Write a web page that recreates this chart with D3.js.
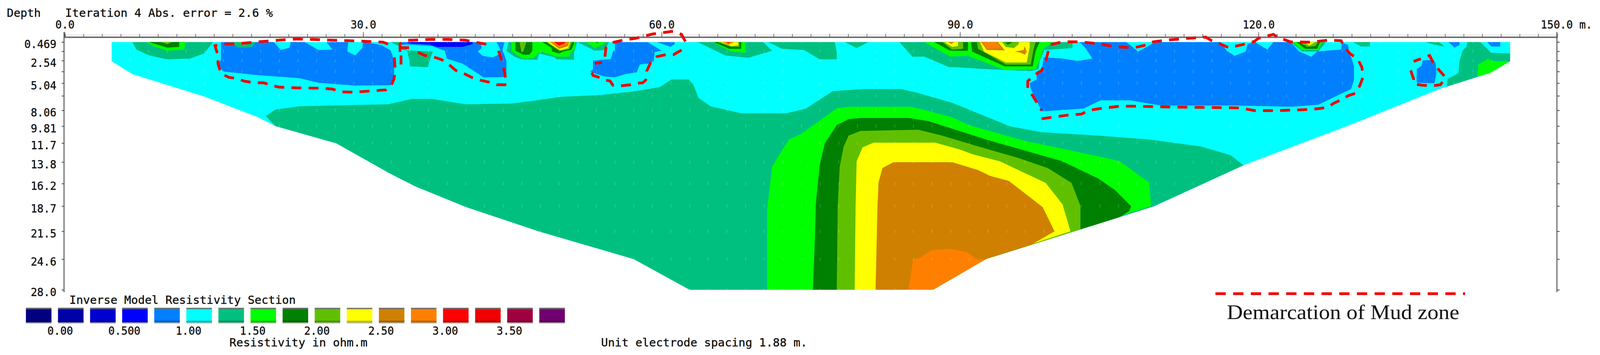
<!DOCTYPE html>
<html>
<head>
<meta charset="utf-8">
<script src="https://cdnjs.cloudflare.com/ajax/libs/d3/7.8.5/d3.min.js"></script>
<style>
  html, body { margin: 0; background: #fff; overflow: hidden; }
  svg { display: block; }
  text { font-family: "DejaVu Sans Mono", monospace; fill: #111; stroke: #111; stroke-width: 0.5px; }
</style>
</head>
<body>
<div id="chart"></div>
<script>
const width = 4198;
const height = 909;

// axes
const distMax = 150;
const electrodeSpacing = 1.875;
const distLabels = [0, 30, 60, 90, 120, 150];
const depthTicks = [0.469, 1.5, 2.54, 3.75, 5.04, 6.45, 8.06, 9.81, 11.7, 13.8, 16.2, 18.7, 21.5, 24.6, 28.0];
const depthLabels = ["0.469", "", "2.54", "", "5.04", "", "8.06", "9.81", "11.7", "13.8", "16.2", "18.7", "21.5", "24.6", "28.0"];

// legend
const legendColors = ["#000080", "#0000a8", "#0000d0", "#0000ff", "#0080ff", "#00ffff", "#00c080", "#00ff00", "#008000", "#60c000", "#ffff00", "#d08000", "#ff8000", "#ff0000", "#f00000", "#a00040", "#700070"];
const legendLabels = ["0.00", "0.500", "1.00", "1.50", "2.00", "2.50", "3.00", "3.50"];

// section outline, [distance m, depth m]
const section = [[4.7,0.47],[4.7,2.62],[6.8,4.05],[14,6.53],[19.4,8.83],[21.2,9.83],[27.3,11.74],[32.6,15.04],[35.2,16.5],[40.3,18.8],[47.6,21.5],[57.2,24.6],[62.8,28],[87.3,28],[92.6,24.59],[109.5,18.73],[118.5,14.17],[129.2,9.7],[138.3,5.66],[142,4.36],[143.3,3.92],[145.3,2.62],[145.3,0.47]];

// deep body, painted outer to inner
const bandMain = [[20.2,8.7],[21.2,7.96],[23.6,7.61],[32.5,7.39],[34.9,6.79],[36.9,6.79],[40.3,7.39],[44.8,7.31],[47.1,7],[49.8,6.57],[54,6.35],[57.4,5.92],[59.8,5.48],[61,4.62],[62.7,4.62],[63.2,5.22],[63.7,6.66],[64.9,7.61],[68,8.39],[72.5,8.39],[74.5,7.87],[77.2,5.92],[80.3,5.7],[84.1,5.7],[85.8,6.14],[89.2,7.22],[95,9.83],[98.1,10.48],[103.9,10.87],[109,11.3],[114.2,12.08],[117.2,13.04],[118.5,14.17],[109.5,18.73],[92.6,24.59],[87.3,28],[62.8,28],[57.2,24.6],[47.6,21.5],[40.3,18.8],[35.2,16.5],[32.6,15.04],[27.3,11.74],[21.2,9.83]];
const greenBody = [[70.6,28],[70.6,19.12],[71.1,14.34],[71.8,13.04],[72.8,11.3],[74,10.69],[76.2,8.96],[77.6,7.83],[78.9,7.66],[85.1,7.66],[86.5,8.05],[89.2,8.83],[90.9,9.7],[96.4,11.43],[103.9,13.17],[106,13.69],[109,16.08],[109.2,18.68],[92.6,24.59],[87.3,28]];
const darkBody = [[75.2,28],[75.4,22.42],[75.5,18.38],[75.9,14.04],[76.4,11.74],[77.6,9.7],[78.8,9.04],[80,8.91],[84.8,8.91],[86.8,9.26],[92.6,11.3],[100.2,13.69],[103.9,15.64],[105.6,16.95],[107.2,18.73],[107,19.25],[105.6,20.25],[102,21.5],[92.6,24.59],[87.3,28]];
const limeBody = [[77.6,28],[77.7,18.68],[77.9,14.34],[78.3,12.08],[78.8,10.87],[80,10.35],[85.8,10.22],[88.2,10.87],[91.6,12],[95.7,13.3],[98.8,14.47],[101.2,16.12],[102.1,18.68],[102.1,21.5],[92.6,24.59],[87.3,28]];
const yellowBody = [[79.4,28],[79.5,18.68],[79.6,13.73],[80.2,12.17],[81.3,11.65],[87.5,11.65],[89.9,12.39],[91.3,12.95],[94,13.73],[98.6,16.12],[100.3,18.51],[101.1,21.5],[92.6,24.59],[87.3,28]];
const brownBody = [[81.5,28],[81.7,18.68],[81.8,16.08],[82.2,14.47],[83.3,13.82],[89.2,13.82],[91.8,14.69],[93,15.34],[94.9,15.9],[98.3,18.81],[99.5,21.5],[97.1,23.03],[92.6,24.59],[87.2,28]];
const orangeBody = [[84.8,28],[85.3,24.59],[85.9,24.46],[87.2,23.59],[89,23.46],[90.7,23.81],[91.6,24.55],[92.6,24.68],[87.3,28]];

// low resistivity zones
const blueA = [[15.7,0.47],[21,0.47],[21.7,1.36],[22.6,1.1],[22.7,0.47],[24.1,0.47],[25.5,1.36],[26.9,1.32],[26.3,0.47],[28.5,0.47],[28.4,1.53],[29.2,1.97],[29.9,1.14],[30,0.47],[31.8,0.79],[32.8,1.45],[33.1,2.62],[33.1,4.49],[32.9,5],[32.8,5.27],[29.1,5.31],[25.5,5],[23.6,4.49],[19.2,4.14],[15.9,3.75],[15.4,2.88],[15.7,2.44]];
const blueB = [[33.9,0.47],[41.8,0.47],[41.9,1.14],[41.5,1.53],[42,2.01],[43,2.18],[43.6,1.88],[43.8,1.36],[43.4,0.47],[44.2,0.47],[44,1.32],[44.4,2.62],[44.4,4.36],[42.5,4.4],[42.1,4.4],[40,2.88],[38.4,2.31],[38.2,1.45],[36.9,0.92],[34.4,0.75],[33.9,0.79]];
const deepBlueB = [[34.4,0.47],[41,0.47],[41,0.71],[40,1.01],[37.4,1.01],[36.7,0.75],[34.6,0.62]];
const blueC = [[55.3,0.47],[58.6,0.49],[60,1.45],[59.3,1.58],[59.2,2.62],[58.8,2.84],[57.8,2.97],[57.5,3.83],[56.3,4.05],[55.3,4.4],[54.3,4.31],[53.5,4.05],[52.8,3.75],[53.1,3.49],[53.1,2.53],[54.9,2.36],[55.1,1.53],[55.3,1.36]];
const blueC2 = [[59.5,0.47],[61.3,0.47],[61.3,0.71],[60.9,1.01],[60,0.66]];
const blueH = [[98.4,2.18],[100.3,2.31],[101.8,2.57],[103.3,2.31],[102.6,1.14],[102,0.47],[106.7,0.47],[107.9,1.53],[109,0.88],[109.6,0.47],[116.2,0.47],[116.8,1.45],[117.6,2.01],[118.7,1.53],[118.9,0.71],[119.6,0.47],[120.9,1.32],[121.5,0.47],[123.2,0.47],[124.1,1.53],[125.3,2.1],[125.9,1.53],[127.6,1.36],[128.3,1.32],[128.4,0.58],[129,0.79],[129.1,1.58],[129.4,2.44],[129.6,3.18],[129.6,4.7],[129.3,5.7],[126,7.44],[123.4,7.66],[117.7,7.53],[110.2,7.53],[107.1,6.96],[104.1,6.96],[102.4,7.87],[98.2,8.18],[97.1,5.66],[97,5.05],[97.7,4.62],[97.7,3.75],[98.2,3.62]];
const blueSmall = [[136.5,2.53],[137.6,2.44],[137.8,2.84],[137.9,3.75],[137.7,5.05],[135.9,5],[135.9,3.49],[136.4,3.1]];
const blueTop1 = [[139.1,0.47],[139.7,1.1],[140.2,0.79],[140.2,0.47]];
const blueTop2 = [[143,0.47],[143.4,0.97],[144.3,0.97],[144.3,0.47]];

// near surface anomalies
const tealA = [[6.8,0.47],[7.2,1.32],[8.5,1.97],[10.3,2.4],[12.6,2.31],[14,1.75],[14.9,0.47]];
const greenA = [[8.2,0.47],[8.9,0.92],[10.3,1.45],[12,1.32],[12.1,0.47]];
const darkA = [[8.4,0.47],[10.3,1.1],[11.5,1.01],[11.5,0.47]];
const limeA = [[9.6,0.47],[10.3,0.71],[10.8,0.47]];
const tealBlobA = [[16.7,0.47],[17.4,1.1],[18.8,1.06],[19.2,0.47]];
const limeBlobA = [[17.4,0.47],[17.9,0.79],[18.6,0.47]];
const tealSliver = [[32.7,0.47],[33.6,0.92],[33.8,1.32],[34.4,1.4],[34.4,1.1],[33.8,0.9],[33.7,0.47]];
const tealBlockB = [[34.4,1.4],[37,1.53],[36.7,2.44],[36.5,3.27],[34.7,3.18],[34.6,2.31]];
const tealC = [[44.6,0.47],[44.4,1.45],[45.2,2.1],[45.9,2.4],[47.5,2.44],[47.7,1.75],[49.3,2.18],[49.4,2.4],[51.2,2.44],[51.2,1.58],[51.5,0.47]];
const greenC = [[44.9,0.47],[44.9,1.45],[45.7,2.1],[46,2.31],[47.1,2.27],[47.6,1.75],[48,1.58],[49.4,2.1],[50.7,2.1],[50.8,1.75],[51.3,1.14],[51.3,0.47]];
const darkC1 = [[45.3,0.47],[45.3,1.45],[46.1,1.88],[46.7,1.88],[47,1.45],[47,0.47]];
const limeC1 = [[45.7,0.47],[45.9,1.53],[46.1,1.53],[46.4,0.47]];
const darkC2 = [[48,0.47],[48.9,1.1],[49,1.53],[49.7,1.75],[50.1,1.53],[50.9,1.36],[51.2,0.66],[51.2,0.47]];
const limeC2 = [[48.4,0.47],[49.4,1.23],[49.8,1.45],[50.7,1.27],[51,0.47]];
const yellowC2 = [[48.5,0.47],[49.8,1.4],[50.6,1.14],[50.8,0.47]];
const brownC2 = [[48.8,0.47],[49.7,1.23],[50.6,0.92],[50.7,0.47]];
const orangeC2 = [[48.9,0.47],[49.7,1.06],[50.5,0.79],[50.6,0.47]];
const redC2 = [[49.2,0.47],[49.7,0.88],[50.3,0.58],[50.3,0.47]];
const tealC3 = [[51.5,0.47],[53.3,1.45],[54.3,1.36],[54.7,0.47]];
const greenC3 = [[52.4,0.47],[53.3,1.14],[54.2,0.71],[54.3,0.47]];
const darkC3 = [[53.3,0.47],[53.6,0.62],[53.6,0.47]];
const tealD = [[63.6,0.47],[66.4,1.97],[68.7,2.23],[70.7,1.58],[71.1,1.45],[70.2,0.47]];
const greenD = [[65.1,0.47],[67,1.53],[68.4,1.66],[68.4,0.47]];
const darkD = [[65.2,0.47],[66.8,1.23],[68,1.23],[68,0.47]];
const limeD = [[65.6,0.47],[67,1.01],[67.8,1.01],[67.8,0.47]];
const yellowD = [[65.9,0.47],[67,0.92],[67.7,0.84],[67.7,0.47]];
const orangeD = [[66.1,0.47],[66.7,0.79],[67.3,0.47]];
const redD = [[66.5,0.47],[66.7,0.62],[66.9,0.47]];
const tealE = [[70.7,0.47],[72.1,1.23],[74.3,1.36],[75.9,2.4],[77.6,2.4],[77.6,1.58],[77.4,0.47]];
const tealF = [[78.4,0.47],[79.6,1.14],[80.8,0.47]];
const tealG = [[83.9,0.47],[85.2,2.1],[86.4,2.1],[88.9,3.27],[89.5,3.27],[92.6,3.49],[97.1,3.7],[97.9,3.49],[98,2.62],[98.5,1.36],[101.3,1.14],[101.3,0.47]];
const greenG = [[86.4,0.47],[89,2.1],[90.8,2.01],[94.6,3.62],[97.6,3.49],[98,2.44],[98.4,1.14],[99.3,0.58],[99.3,0.47]];
const darkG1 = [[87.4,0.47],[89,1.45],[90.8,1.45],[90.8,0.47]];
const limeG1 = [[88.2,0.47],[89.2,1.32],[90.3,1.23],[90.3,0.47]];
const yellowG1 = [[88.4,0.47],[89.2,1.01],[89.8,0.92],[89.8,0.47]];
const brownG1 = [[88.8,0.47],[89.1,0.71],[89.4,0.47]];
const darkG2 = [[91.1,0.47],[91.2,1.53],[94.5,3.18],[97.3,3.18],[97.6,1.45],[98,0.47]];
const limeG2 = [[91.7,0.47],[91.8,1.23],[94.6,2.97],[97.1,2.97],[97.4,1.23],[97.6,0.47]];
const yellowG2 = [[92,0.47],[92.4,1.53],[94.6,2.75],[96.7,2.75],[97,1.01],[97,0.47]];
const brownG2 = [[92.1,0.47],[92.7,1.36],[94.5,1.4],[93.8,0.47]];
const orangeG2 = [[92.2,0.47],[92.8,1.23],[94.1,1.14],[93.6,0.47]];
const limePocket = [[94.2,0.47],[94.6,1.01],[95.4,1.14],[95.9,0.71],[95.9,0.47]];
const darkPocket = [[94.5,0.47],[94.8,0.79],[95.3,0.47]];
const brownStar = [[95.5,1.53],[96.4,1.36],[96.5,0.92],[96.7,1.58],[96.5,1.88],[96.1,1.66]];
const tealH = [[123.2,0.47],[124.4,1.53],[126,1.53],[126.8,0.47]];
const greenH = [[123.4,0.47],[124.4,1.36],[126,1.36],[126.4,0.47]];
const darkH = [[123.8,0.47],[124.7,1.23],[125.9,1.23],[126.2,0.47]];
const limeH = [[124.1,0.47],[124.9,1.01],[125.7,0.92],[126,0.47]];
const yellowH = [[124.6,0.47],[125.1,0.88],[125.7,0.47]];
const tealJ = [[129.5,0.47],[130.3,0.97],[131.2,0.97],[131.2,0.47]];
const tealK = [[136.7,0.47],[137.8,0.79],[138.7,1.01],[138.4,0.66],[138.1,0.47]];
const tealL = [[141,0.47],[140.9,1.01],[140.5,1.45],[140.2,2.62],[140.1,3.92],[139,4.57],[138.9,5.44],[142,4.36],[145.3,2.62],[145.3,1.75],[143.4,1.66],[142.3,0.49],[142.1,0.47]];
const greenL = [[142.1,2.97],[143.1,2.31],[143.4,2.57],[145.3,2.62],[143.3,3.92],[142,4.31]];

// mud zone demarcation
const mudA = [[32.5,0.71],[32,0.49],[30.4,0.4],[28.5,0.32],[26.9,0.27],[24.9,0.19],[23.3,0.14],[21.5,0.27],[19.5,0.45],[17.4,0.66],[15.9,0.71],[15.1,0.88],[15.4,1.97],[15.4,2.88],[15.7,3.96],[16.5,4.4],[17.1,4.49],[18.1,4.83],[19,5],[20,5],[20.7,5.27],[21.5,5.48],[23.3,5.57],[25.8,5.61],[26.9,5.7],[27.7,6],[29.1,6.05],[31.1,5.88],[32.3,5.79],[32.8,5.35],[33.1,4.57],[33.2,3.4],[33.1,1.58]];
const mudB1 = [[33.7,1.58],[33.7,0.71],[34.2,0.27],[35,0.27],[36.7,0.19],[38.5,0.19],[40.3,0.27],[41.2,0.49],[42.1,0.66],[43,0.84]];
const mudB2 = [[34.6,1.1],[33.7,1.1]];
const mudB3 = [[33.8,2.97],[33.8,1.97]];
const mudB4 = [[43.6,1.45],[43.9,2.4],[44.1,3.31],[44.3,4.4],[44.4,5.22],[43.4,5.22],[42.6,4.92],[41.7,4.7],[40.9,4.4],[40.1,3.96],[39.3,3.62],[38.6,2.97],[37.9,2.44],[37,2.1],[36.2,1.97],[35.3,1.53]];
const mudC1 = [[54.3,2.1],[54.4,1.1],[55.2,0.49],[56.1,0.27],[57.4,0.06],[59.1,-0.42],[61.2,-0.73],[62,-0.38],[62.5,0.66]];
const mudC2 = [[62,1.36],[61.2,1.88],[60.4,1.88],[59.5,2.1],[58.9,2.75],[58.5,3.7],[58.4,4.7],[58.1,5],[57.6,5.05],[56.9,5.22],[55.8,5.35],[55.1,5.27],[54.8,4.79],[54.3,4.7],[53.6,4.36],[53.1,4.18],[52.9,3.7]];
const mudC3 = [[53.3,2.84],[54,2.75]];
const mudH = [[98.2,9],[100.7,8.61],[102.2,8.48],[103,8.05],[104.3,7.83],[106,7.61],[107.9,7.61],[111.3,7.7],[114.9,7.74],[118.1,7.79],[119.6,8.09],[121.9,8.09],[125.3,7.96],[127,7.74],[127.5,7.31],[128.5,6.79],[129,6.44],[129.8,6.14],[130.2,5.27],[130.5,4.4],[130.4,3.31],[130,2.4],[129.2,1.75],[128.7,1.14],[128.3,0.32],[127,0.27],[125.1,0.49],[123.2,0.45],[121.9,-0.07],[121.5,-0.38],[120,0.06],[119.6,0.4],[118.3,0.79],[117,1.1],[116.2,0.71],[115.2,0.27],[114.7,-0.07],[112.4,0.1],[110.7,0.27],[109.4,0.45],[108.8,0.79],[107.5,1.1],[105.6,1.01],[103.9,0.66],[102,0.45],[100.3,0.45],[99,0.79],[98.8,1.79],[98.6,2.62],[98.2,3.62],[97.5,4.14],[96.8,4.83],[96.8,5.7],[97.3,6.44],[98.2,8.09]];
const mudSmall = [[135.3,3.62],[135.6,4.62],[135.6,5.14],[136.5,5.27],[137.4,5.35],[138.3,5.22],[138.8,4.4],[138.1,3.53],[137.6,2.84],[137.2,1.97],[136.4,2.31],[135.6,2.62]];

// [legend colour index, polygon], painted in this order
const layers = [
  [6, bandMain], [7, greenBody], [8, darkBody], [9, limeBody], [10, yellowBody], [11, brownBody], [12, orangeBody],
  [4, blueA], [6, tealBlobA], [9, limeBlobA], [6, tealSliver], [4, blueB], [3, deepBlueB], [6, tealBlockB],
  [4, blueC], [4, blueC2], [4, blueH], [4, blueSmall], [4, blueTop1], [4, blueTop2],
  [6, tealA], [7, greenA], [8, darkA], [9, limeA],
  [6, tealC], [7, greenC], [8, darkC1], [9, limeC1], [8, darkC2], [9, limeC2], [10, yellowC2], [11, brownC2], [12, orangeC2], [13, redC2],
  [6, tealC3], [7, greenC3], [8, darkC3],
  [6, tealD], [7, greenD], [8, darkD], [9, limeD], [10, yellowD], [12, orangeD], [13, redD],
  [6, tealE], [6, tealF],
  [6, tealG], [7, greenG], [8, darkG1], [9, limeG1], [10, yellowG1], [11, brownG1],
  [8, darkG2], [9, limeG2], [10, yellowG2], [11, brownG2], [12, orangeG2], [9, limePocket], [8, darkPocket], [11, brownStar],
  [6, tealH], [7, greenH], [8, darkH], [9, limeH], [10, yellowH],
  [6, tealJ], [6, tealK], [6, tealL], [7, greenL]
];
const mudLines = [mudA, mudB1, mudB2, mudB3, mudB4, mudC1, mudC2, mudC3, mudH, mudSmall];

// the window can come out narrower than the chart, so fit the whole drawing to it
const svg = d3.select("#chart").append("svg")
  .attr("width", Math.min(window.innerWidth, width))
  .attr("height", height)
  .attr("viewBox", `0 0 ${width} ${height}`)
  .attr("preserveAspectRatio", "none");

const x = d3.scaleLinear().domain([0, distMax]).range([170, 4085]);
const y = d3.scaleLinear().domain([0.469, 28]).range([107.5, 742]);

const line = d3.line().x((d) => x(d[0])).y((d) => y(d[1]));
const closed = (pts) => line(pts) + "Z";

svg.append("clipPath").attr("id", "sec").append("path").attr("d", closed(section));

// section fill and contours
const body = svg.append("g").attr("clip-path", "url(#sec)");
body.append("path").attr("d", closed(section)).attr("fill", legendColors[5]);
body.selectAll(".layer")
  .data(layers)
  .enter()
  .append("path")
  .attr("class", "layer")
  .attr("d", (d) => closed(d[1]))
  .attr("fill", (d) => legendColors[d[0]]);

// model block dots
const electrodes = d3.range(0, 80).map((i) => (i + 0.5) * electrodeSpacing);
body.selectAll(".dot")
  .data(d3.cross(depthTicks, electrodes))
  .enter()
  .append("rect")
  .attr("class", "dot")
  .attr("x", (d) => x(d[1]) - 1)
  .attr("y", (d) => y(d[0]) - 4)
  .attr("width", 2)
  .attr("height", 8)
  .attr("fill", "#fff")
  .attr("opacity", 0.2);

// top axis: shaded strip, minor ticks, labelled ticks
svg.append("rect").attr("x", x(0)).attr("y", 87).attr("width", x(distMax) - x(0)).attr("height", 7).attr("fill", "#f1f1f1");

const minorAxis = d3.axisTop(x)
  .tickValues(d3.range(0, distMax + 0.1, electrodeSpacing))
  .tickSize(8)
  .tickFormat("");
const gMinor = svg.append("g").attr("transform", "translate(0,95)").call(minorAxis);
gMinor.selectAll("line").attr("stroke", "#555").attr("stroke-width", 1.5);
gMinor.select(".domain").attr("stroke", "#666").attr("stroke-width", 3.5);

const majorAxis = d3.axisTop(x)
  .tickValues(distLabels)
  .tickSize(13)
  .tickPadding(9)
  .tickFormat((d) => (d === distMax ? "150.0 m." : d3.format(".1f")(d)));
const gMajor = svg.append("g").attr("transform", "translate(0,95)").call(majorAxis);
gMajor.select(".domain").remove();
gMajor.selectAll("line").attr("stroke", "#555").attr("stroke-width", 1.5);
gMajor.selectAll("text")
  .attr("font-size", 28)
  .attr("font-family", "DejaVu Sans Mono")
  .attr("fill", "#111")
  .filter((d) => d === distMax)
  .attr("text-anchor", "start")
  .attr("x", -43);

// depth axes, left and right
const leftAxis = d3.axisLeft(y)
  .tickValues(depthTicks)
  .tickSize(6)
  .tickPadding(14)
  .tickFormat((d, i) => depthLabels[i]);
const gLeft = svg.append("g").attr("transform", "translate(168,0)").call(leftAxis);
gLeft.select(".domain").remove();
gLeft.selectAll("line").attr("stroke", "#444").attr("stroke-width", 2);
gLeft.selectAll("text")
  .attr("font-size", 28)
  .attr("font-family", "DejaVu Sans Mono")
  .attr("fill", "#111")
  .attr("dy", "0.55em");

const rightAxis = d3.axisRight(y).tickValues(depthTicks).tickSize(7).tickFormat("");
const gRight = svg.append("g").attr("transform", `translate(${x(distMax)},0)`).call(rightAxis);
gRight.select(".domain").remove();
gRight.selectAll("line").attr("stroke", "#444").attr("stroke-width", 2);

[168, x(distMax)].forEach((px) => {
  svg.append("line").attr("x1", px).attr("x2", px).attr("y1", 82).attr("y2", 748)
    .attr("stroke", "#555").attr("stroke-width", 2.5);
});

// mud zone dashes
svg.selectAll(".mud")
  .data(mudLines)
  .enter()
  .append("path")
  .attr("class", "mud")
  .attr("d", line)
  .attr("fill", "none")
  .attr("stroke", "#f00000")
  .attr("stroke-width", 7)
  .attr("stroke-dasharray", "26 19");

// colour legend
const legendX = d3.scaleBand().domain(d3.range(legendColors.length)).range([68, 1482]).paddingInner(0.204);
const swatch = svg.selectAll(".swatch")
  .data(legendColors)
  .enter()
  .append("g")
  .attr("class", "swatch")
  .attr("transform", (d, i) => `translate(${legendX(i)},0)`);
swatch.append("rect").attr("y", 788).attr("width", legendX.bandwidth()).attr("height", 4)
  .attr("fill", (d) => d3.interpolateRgb(d, "#707070")(0.85));
swatch.append("rect").attr("y", 792).attr("width", legendX.bandwidth()).attr("height", 31).attr("fill", (d) => d);
swatch.append("rect").attr("y", 821).attr("width", legendX.bandwidth()).attr("height", 4)
  .attr("fill", (d) => d3.color(d).darker(0.8));
swatch.append("rect").attr("y", 825).attr("width", legendX.bandwidth()).attr("height", 3)
  .attr("fill", (d) => d3.interpolateRgb(d, "#a8a8a0")(0.8));

svg.selectAll(".leglabel")
  .data(legendLabels)
  .enter()
  .append("text")
  .attr("class", "leglabel")
  .attr("x", (d, i) => legendX(i * 2) + 90)
  .attr("y", 857)
  .attr("text-anchor", "middle")
  .attr("font-size", 28)
  .text((d) => d);

// fixed texts
const labelText = (str, px, py, len) =>
  svg.append("text")
    .attr("x", px)
    .attr("y", py)
    .attr("font-size", 28)
    .attr("textLength", len)
    .attr("lengthAdjust", "spacingAndGlyphs")
    .text(str);

labelText("Depth", 18, 43, 89);
labelText("Iteration 4 Abs. error = 2.6 %", 171, 43, 545);
labelText("Inverse Model Resistivity Section", 182, 778, 594);
labelText("Resistivity in ohm.m", 602, 887, 362);
labelText("Unit electrode spacing 1.88 m.", 1577, 887, 541);

// mud zone key
svg.append("line")
  .attr("x1", 3189).attr("x2", 3844).attr("y1", 752).attr("y2", 752)
  .attr("stroke", "#f00000")
  .attr("stroke-width", 7)
  .attr("stroke-dasharray", "27 19.4");

svg.append("text")
  .attr("x", 3219)
  .attr("y", 817)
  .attr("font-size", 52)
  .attr("textLength", 610)
  .attr("lengthAdjust", "spacingAndGlyphs")
  .style("font-family", "'Liberation Serif', serif")
  .style("stroke", "none")
  .text("Demarcation of Mud zone");
</script>
</body>
</html>
